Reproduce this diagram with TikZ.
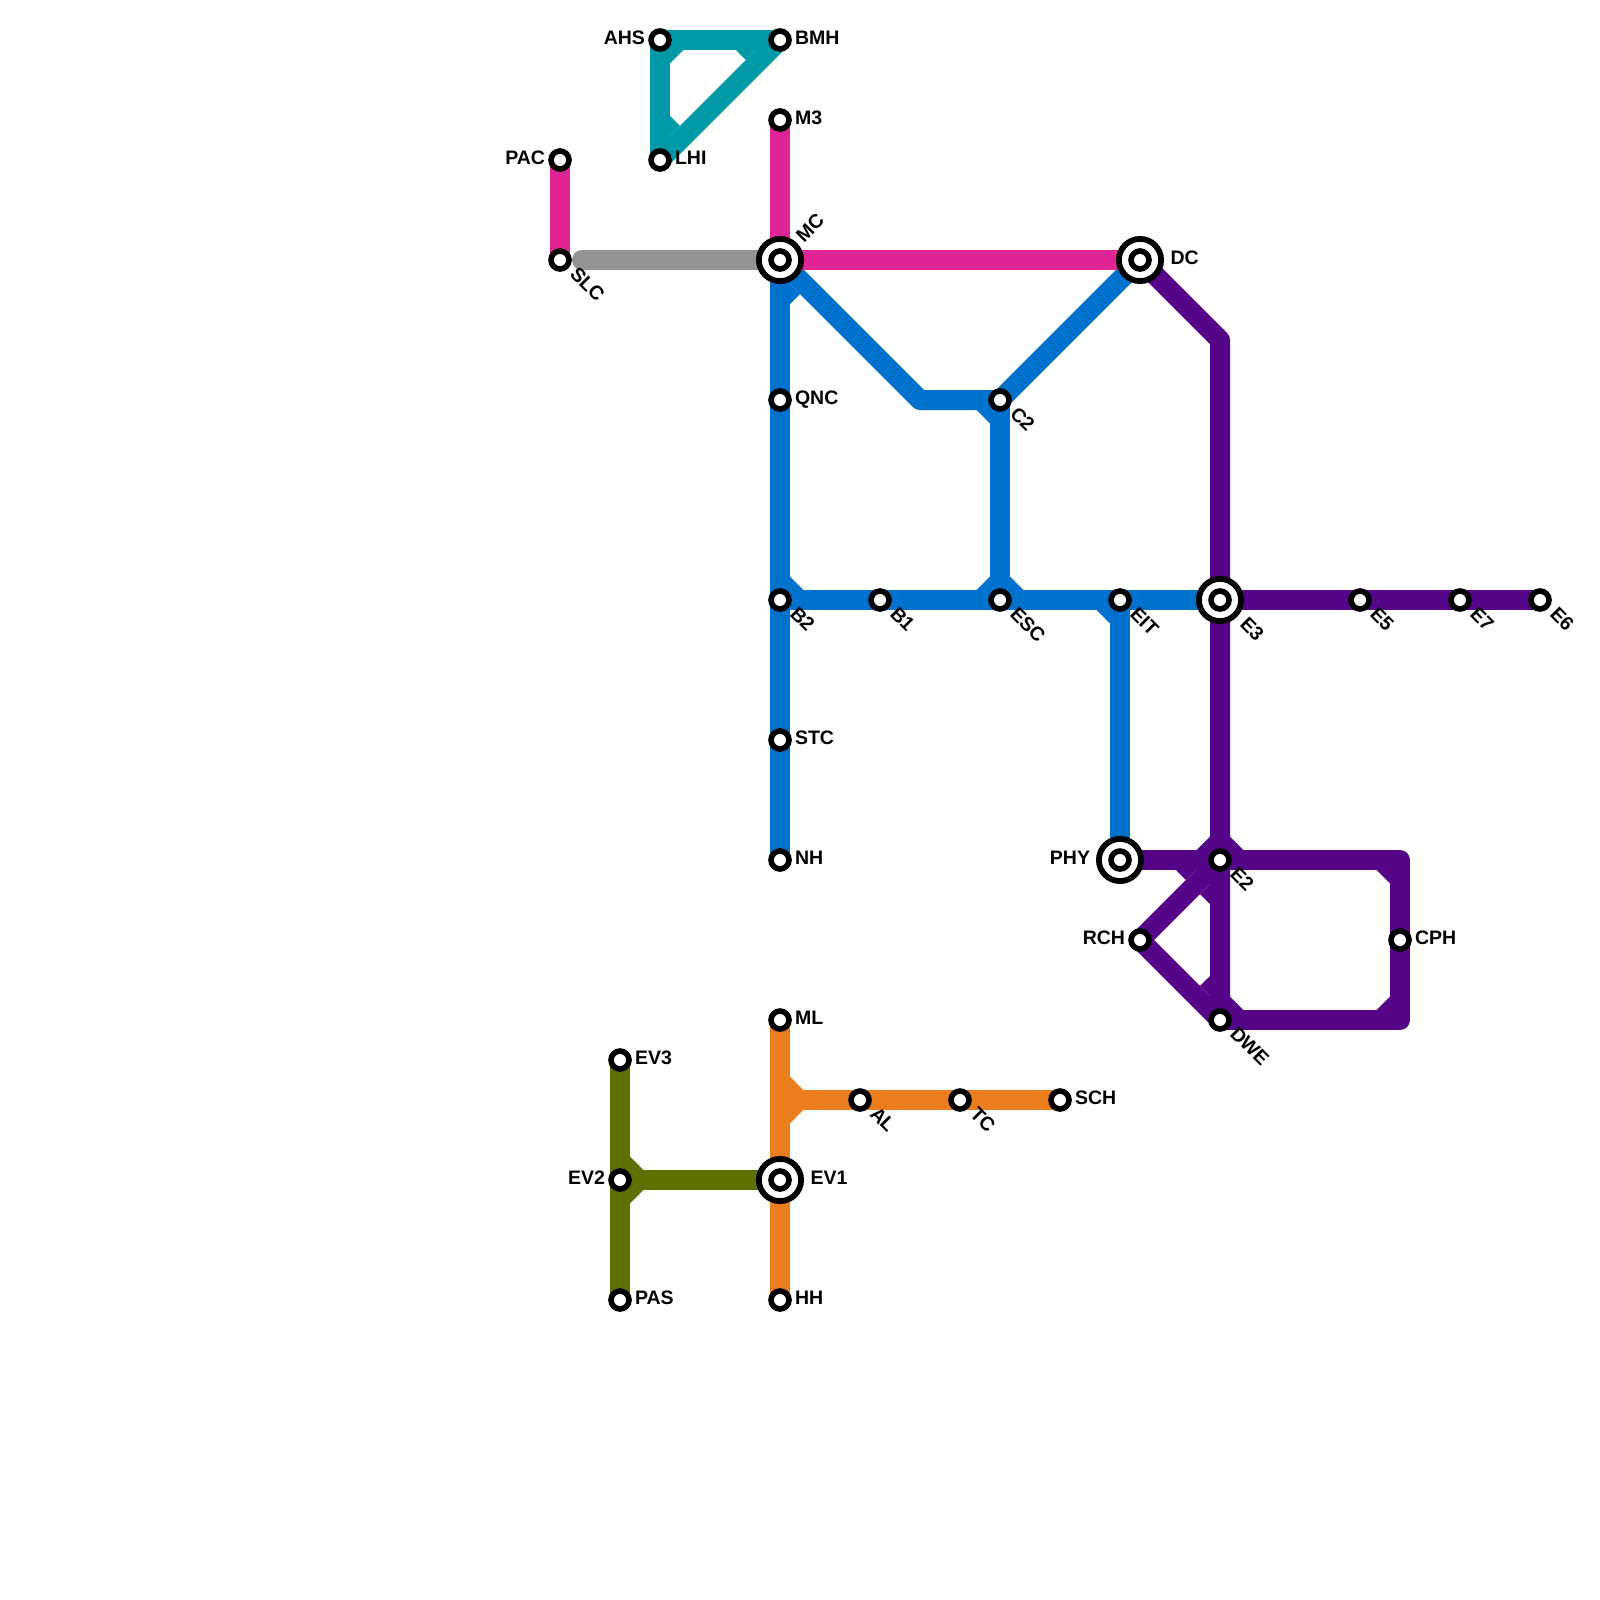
\documentclass[tikz,border=0pt]{standalone}
\usepackage{fontspec}
\setmainfont{Liberation Sans}
\usetikzlibrary{backgrounds}
\definecolor{linepink}{RGB}{225,36,149}
\definecolor{linegrey}{RGB}{147,147,147}
\definecolor{lineteal}{RGB}{0,153,168}
\definecolor{lineblue}{RGB}{0,114,206}
\definecolor{linepurple}{RGB}{85,5,135}
\definecolor{lineorange}{RGB}{234,125,29}
\definecolor{lineolive}{RGB}{94,112,0}
\begin{document}
\begin{tikzpicture}[x=1pt, y=-1pt,
	every node/.style={inner sep=0pt, outer sep=0pt, font=\fontsize{19.5}{22}\selectfont\bfseries},
	stn/.style={circle, draw=black, fill=white, line width=5.6pt, minimum size=18pt},
	hub/.style={circle, draw=black, fill=white, line width=5.8pt, minimum size=42.2pt,
		path picture={\draw[line width=5.6pt] (path picture bounding box.center) circle (9pt);}},
	rail/.style={line width=20pt, line join=round},
	lblr/.style={anchor=base west},
	lbll/.style={anchor=base east},
	lblse/.style={anchor=base west, rotate=-45},
	lblne/.style={anchor=base west, rotate=45}]
	\useasboundingbox (0,0) rectangle (1600,1600);
	% stations
	\foreach \n/\x/\y in {ahs/660/40,bmh/780/40,lhi/660/160,mthree/780/120,pac/560/160,slc/560/260,
		qnc/780/400,ctwo/1000/400,btwo/780/600,bone/880/600,esc/1000/600,eit/1120/600,
		efive/1360/600,eseven/1460/600,esix/1540/600,stc/780/740,nh/780/860,etwo/1220/860,
		rch/1140/940,cph/1400/940,dwe/1220/1020,ml/780/1020,al/860/1100,tc/960/1100,sch/1060/1100,
		hh/780/1300,evthree/620/1060,evtwo/620/1180,pas/620/1300}
		{\node[stn] (\n) at (\x,\y) {};}
	\foreach \n/\x/\y in {mc/780/260,dc/1140/260,ethree/1220/600,phy/1120/860,evone/780/1180}
		{\node[hub] (\n) at (\x,\y) {};}
	\coordinate (bendblue) at (920,400);
	\coordinate (bendpurple) at (1220,340);
	\coordinate (cornertop) at (1400,860);
	\coordinate (cornerbot) at (1400,1020);
	\coordinate (forkorange) at (780,1100);
	\begin{pgfonlayer}{background}
		% lines
		\draw[rail, lineteal] (ahs.center) -- (bmh.center);
		\draw[rail, lineteal] (bmh.center) -- (lhi.center);
		\draw[rail, lineteal] (ahs.center) -- (lhi.center);
		\draw[rail, lineblue] (mc.center) -- (nh.center);
		\draw[rail, lineblue] (mc.center) -- (bendblue) -- (ctwo.center) -- (dc.center);
		\draw[rail, lineblue] (ctwo.center) -- (esc.center);
		\draw[rail, lineblue] (btwo.center) -- (ethree.center);
		\draw[rail, lineblue] (eit.center) -- (phy.center);
		\draw[rail, linepurple] (dc.center) -- (bendpurple) -- (ethree.center) -- (dwe.center);
		\draw[rail, linepurple] (ethree.center) -- (esix.center);
		\draw[rail, linepurple] (phy.center) -- (cornertop) -- (cornerbot) -- (dwe.center);
		\draw[rail, linepurple] (etwo.center) -- (rch.center);
		\draw[rail, linepurple] (rch.center) -- (dwe.center);
		\draw[rail, linepink] (pac.center) -- (slc.center);
		\draw[rail, linepink] (mthree.center) -- (mc.center) -- (dc.center);
		\draw[rail, linegrey, line cap=round, shorten <=22pt] (slc.center) -- (mc.center);
		\draw[rail, lineorange] (ml.center) -- (hh.center);
		\draw[rail, lineorange] (forkorange) -- (sch.center);
		\draw[rail, lineolive] (evthree.center) -- (pas.center);
		\draw[rail, lineolive] (evtwo.center) -- (evone.center);
		% inner corners
		\foreach \p/\q/\r in {{670,50}/{683.3,50}/{670,63.3},{755.9,50}/{736,50}/{745.9,60},{670,135.9}/{670,116}/{679.9,125.9}}
			{\fill[lineteal] (\p) -- (\q) -- (\r) -- cycle;}
		\foreach \p/\q/\r in {{790,284.1}/{790,304}/{799.9,294.1},{990,410}/{976.7,410}/{990,423.3},
			{790,590}/{790,576.7}/{803.3,590},{990,590}/{990,576.7}/{976.7,590},{1010,590}/{1010,576.7}/{1023.3,590},
			{1110,610}/{1096.7,610}/{1110,623.3}}
			{\fill[lineblue] (\p) -- (\q) -- (\r) -- cycle;}
		\foreach \p/\q/\r in {{1210,850}/{1210,836.7}/{1196.7,850},{1230,850}/{1230,836.7}/{1243.3,850},
			{1195.9,870}/{1176,870}/{1185.9,880},{1210,884.1}/{1200,894.1}/{1210,904},
			{1390,870}/{1376.7,870}/{1390,883.3},{1390,1010}/{1390,996.7}/{1376.7,1010},
			{1230,1010}/{1230,996.7}/{1243.3,1010},{1210,995.9}/{1210,976}/{1200,985.9}}
			{\fill[linepurple] (\p) -- (\q) -- (\r) -- cycle;}
		\foreach \p/\q/\r in {{790,1090}/{790,1076.7}/{803.3,1090},{790,1110}/{790,1123.3}/{803.3,1110}}
			{\fill[lineorange] (\p) -- (\q) -- (\r) -- cycle;}
		\foreach \p/\q/\r in {{630,1170}/{630,1156.7}/{643.3,1170},{630,1190}/{630,1203.3}/{643.3,1190}}
			{\fill[lineolive] (\p) -- (\q) -- (\r) -- cycle;}
	\end{pgfonlayer}
	% labels
	\foreach \n/\t in {bmh/BMH,lhi/LHI,mthree/M3,qnc/QNC,stc/STC,nh/NH,cph/CPH,ml/ML,sch/SCH,hh/HH,evthree/EV3,pas/PAS}
		{\node[lblr] (\n txt) at ([shift={(15,4.3)}]\n.center) {\t};}
	\foreach \n/\t in {ahs/AHS,pac/PAC,rch/RCH,evtwo/EV2}
		{\node[lbll] (\n txt) at ([shift={(-15,4.3)}]\n.center) {\t};}
	\node[lbll] (phytxt) at ([shift={(-30,4.3)}]phy.center) {PHY};
	\node[lblr] (dctxt) at ([shift={(30.5,4.3)}]dc.center) {DC};
	\node[lblr] (evonetxt) at ([shift={(30.5,4.3)}]evone.center) {EV1};
	\foreach \n/\t in {slc/SLC,ctwo/C2,btwo/B2,bone/B1,esc/ESC,eit/EIT,efive/E5,eseven/E7,esix/E6,etwo/E2,dwe/DWE,al/AL,tc/TC}
		{\node[lblse] (\n txt) at ([shift={(9,15)}]\n.center) {\t};}
	\node[lblse] (ethreetxt) at ([shift={(19,25)}]ethree.center) {E3};
	\node[lblne] (mctxt) at ([shift={(24,-17)}]mc.center) {MC};
\end{tikzpicture}
\end{document}
